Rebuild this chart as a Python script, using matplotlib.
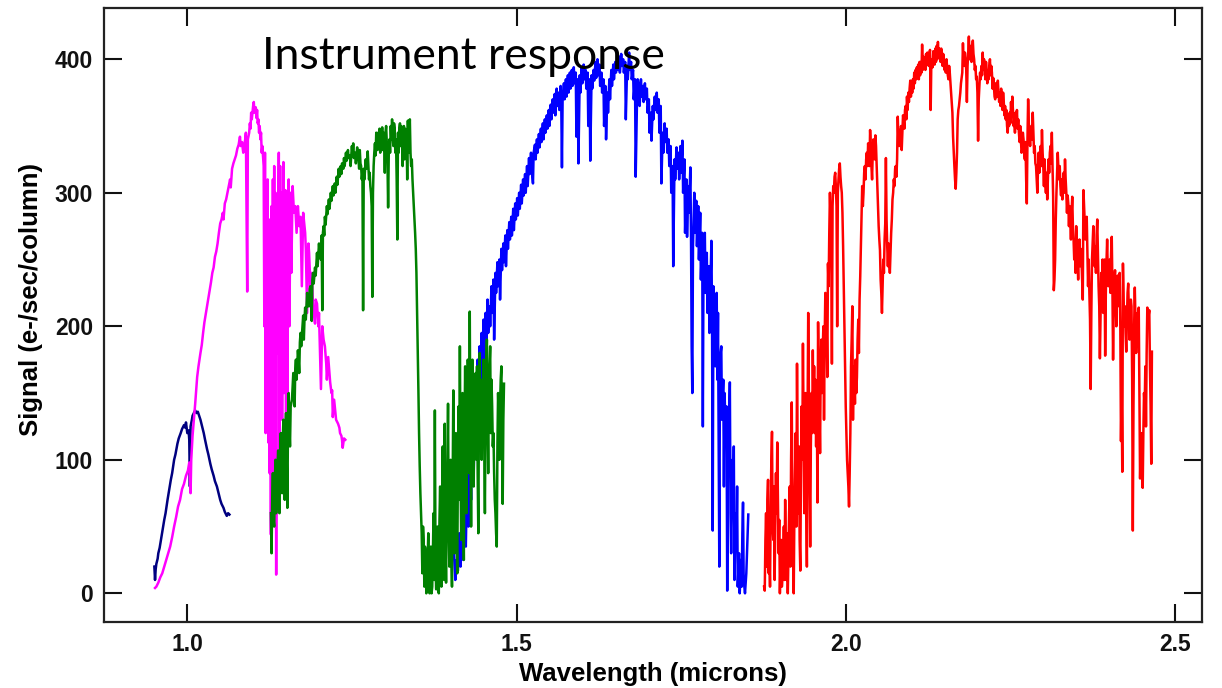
import matplotlib
matplotlib.use("Agg")
import matplotlib.pyplot as plt

# (wavelength in microns, signal in e-/sec/column), one list per band
navy_pts = [(0.950, 20), (0.951, 10), (0.952, 18), (0.953, 22), (0.955, 26), (0.956, 30), (0.958, 34),
            (0.960, 40), (0.962, 46), (0.965, 55), (0.967, 60), (0.970, 70), (0.972, 76), (0.975, 85),
            (0.977, 90), (0.980, 100), (0.982, 104), (0.985, 112), (0.987, 116), (0.990, 120),
            (0.992, 123), (0.995, 126), (0.997, 124), (0.998, 128), (1.000, 120), (1.002, 122),
            (1.003, 115), (1.004, 80), (1.005, 125), (1.007, 130), (1.008, 133), (1.010, 135),
            (1.012, 137), (1.014, 135), (1.016, 136), (1.018, 133), (1.020, 130), (1.022, 126),
            (1.025, 120), (1.027, 115), (1.030, 108), (1.032, 104), (1.035, 97), (1.037, 93),
            (1.040, 88), (1.042, 84), (1.045, 80), (1.047, 76), (1.050, 70), (1.052, 67), (1.055, 64),
            (1.057, 61), (1.060, 58), (1.062, 60), (1.064, 59)]

magenta_pts = [(0.951, 4), (0.953, 5), (0.956, 8), (0.959, 12), (0.962, 15), (0.965, 20), (0.968, 25),
               (0.971, 30), (0.974, 35), (0.977, 42), (0.980, 50), (0.983, 57), (0.986, 65), (0.989, 70),
               (0.992, 78), (0.995, 82), (0.998, 88), (1.001, 92), (1.003, 98), (1.005, 75), (1.006, 100),
               (1.008, 118), (1.010, 130), (1.012, 142), (1.015, 162), (1.017, 170), (1.020, 180),
               (1.022, 186), (1.024, 195), (1.026, 203), (1.029, 212), (1.031, 218), (1.034, 227),
               (1.036, 233), (1.038, 240), (1.040, 244), (1.042, 252), (1.044, 256), (1.046, 262),
               (1.048, 270), (1.050, 277), (1.052, 280), (1.054, 285), (1.055, 280), (1.057, 292),
               (1.059, 295), (1.061, 300), (1.063, 305), (1.065, 310), (1.066, 304), (1.068, 318),
               (1.070, 322), (1.072, 325), (1.074, 328), (1.076, 333), (1.078, 336), (1.080, 342),
               (1.081, 335), (1.083, 338), (1.085, 330), (1.086, 335), (1.088, 340), (1.089, 345),
               (1.091, 226), (1.092, 340), (1.094, 345), (1.095, 352), (1.096, 348), (1.097, 360),
               (1.098, 355), (1.100, 365), (1.101, 368), (1.102, 360), (1.104, 364), (1.105, 356),
               (1.106, 362), (1.107, 352), (1.108, 355), (1.109, 345), (1.110, 350), (1.111, 340),
               (1.112, 345), (1.113, 330), (1.114, 335),
               (1.116, 320), (1.117, 200), (1.118, 330), (1.119, 120), (1.120, 300), (1.121, 160),
               (1.122, 310), (1.123, 113), (1.124, 280), (1.125, 90), (1.126, 260), (1.127, 44),
               (1.128, 290), (1.129, 86), (1.130, 310), (1.131, 140), (1.132, 320), (1.133, 60),
               (1.134, 300), (1.135, 14), (1.136, 250), (1.137, 180), (1.139, 330), (1.140, 100),
               (1.141, 320), (1.142, 200), (1.143, 300), (1.144, 130), (1.146, 323), (1.147, 150),
               (1.149, 302), (1.150, 120), (1.151, 290), (1.152, 147), (1.154, 310), (1.155, 200),
               (1.157, 300), (1.158, 240), (1.160, 305), (1.162, 285), (1.164, 290), (1.166, 270),
               (1.168, 290), (1.170, 275), (1.172, 282), (1.174, 230), (1.176, 285), (1.179, 270),
               (1.180, 258), (1.182, 210), (1.184, 262), (1.185, 255), (1.187, 230), (1.189, 240),
               (1.191, 215), (1.194, 202), (1.195, 220), (1.197, 217), (1.199, 200), (1.200, 210),
               (1.203, 153), (1.205, 200), (1.207, 190), (1.209, 185), (1.211, 172), (1.212, 160),
               (1.214, 177), (1.216, 165), (1.217, 158), (1.219, 150), (1.220, 152), (1.221, 132),
               (1.223, 145), (1.224, 140), (1.226, 130), (1.229, 127), (1.231, 124), (1.232, 120),
               (1.234, 118), (1.235, 115), (1.236, 109), (1.238, 116), (1.240, 115)]

green_pts = [(1.127, 60), (1.128, 30), (1.129, 70), (1.130, 90), (1.131, 55), (1.132, 50), (1.133, 85),
             (1.134, 100), (1.135, 60), (1.136, 70), (1.137, 95), (1.138, 107), (1.139, 80), (1.140, 60),
             (1.141, 100), (1.142, 120), (1.143, 90), (1.144, 75), (1.145, 115), (1.146, 130),
             (1.147, 95), (1.148, 70), (1.149, 120), (1.150, 135), (1.151, 100), (1.152, 64),
             (1.153, 130), (1.154, 150), (1.155, 125), (1.156, 110), (1.157, 140), (1.159, 145),
             (1.160, 155), (1.161, 165), (1.162, 150), (1.163, 140), (1.164, 168), (1.165, 175),
             (1.166, 160), (1.168, 182), (1.169, 175), (1.170, 165), (1.171, 188), (1.172, 195),
             (1.173, 185), (1.175, 200), (1.176, 208), (1.177, 190), (1.178, 205), (1.179, 214),
             (1.180, 205), (1.182, 225), (1.183, 215), (1.185, 215), (1.186, 228), (1.187, 230),
             (1.188, 220), (1.189, 204), (1.190, 235), (1.191, 240), (1.192, 232), (1.194, 244),
             (1.195, 238), (1.197, 255), (1.198, 245), (1.200, 262), (1.201, 255), (1.203, 250),
             (1.204, 268), (1.205, 212), (1.206, 270), (1.207, 275), (1.208, 268), (1.209, 282),
             (1.210, 276), (1.212, 290), (1.213, 284), (1.215, 295), (1.216, 288), (1.218, 300),
             (1.219, 294), (1.221, 305), (1.222, 298), (1.224, 307), (1.225, 300), (1.227, 312),
             (1.228, 306), (1.230, 318), (1.231, 312), (1.233, 320), (1.234, 314), (1.235, 322),
             (1.237, 318), (1.238, 326), (1.239, 320), (1.241, 330), (1.242, 324), (1.244, 332),
             (1.245, 326), (1.247, 328), (1.248, 320), (1.250, 335), (1.251, 328), (1.252, 337),
             (1.253, 326), (1.255, 330), (1.256, 322), (1.258, 334), (1.259, 326), (1.260, 325),
             (1.261, 318), (1.262, 332), (1.263, 322), (1.264, 320), (1.265, 310), (1.266, 315),
             (1.267, 212), (1.268, 318), (1.269, 310), (1.271, 325), (1.272, 318), (1.274, 331),
             (1.275, 320), (1.276, 310), (1.277, 315), (1.278, 305), (1.279, 300), (1.280, 290),
             (1.281, 222), (1.282, 300), (1.283, 320), (1.284, 330), (1.285, 337), (1.286, 328),
             (1.287, 345), (1.288, 340), (1.289, 332), (1.290, 345), (1.291, 336), (1.292, 348),
             (1.293, 330), (1.294, 345), (1.295, 338), (1.296, 349), (1.297, 332), (1.298, 345),
             (1.299, 340), (1.300, 315), (1.301, 345), (1.302, 350), (1.303, 338), (1.304, 325),
             (1.305, 289), (1.306, 330), (1.307, 340), (1.308, 330), (1.309, 350), (1.310, 340),
             (1.311, 355), (1.312, 342), (1.313, 335), (1.314, 352), (1.315, 348), (1.316, 330),
             (1.317, 340), (1.318, 310), (1.319, 265), (1.320, 345), (1.321, 330), (1.322, 348),
             (1.323, 352), (1.324, 335), (1.325, 350), (1.326, 342), (1.327, 320), (1.328, 345),
             (1.329, 350), (1.330, 325), (1.331, 348), (1.332, 330), (1.333, 345), (1.334, 310),
             (1.335, 354), (1.336, 330), (1.337, 340), (1.338, 355), (1.339, 330), (1.340, 320),
             (1.341, 325), (1.342, 310), (1.343, 300), (1.344, 290), (1.345, 280), (1.346, 270),
             (1.347, 258), (1.348, 240), (1.349, 212), (1.350, 180), (1.351, 152), (1.352, 120),
             (1.353, 95), (1.354, 75), (1.355, 60), (1.356, 45), (1.357, 15), (1.358, 50), (1.359, 40),
             (1.360, 5), (1.361, 35), (1.362, 30), (1.363, 0), (1.364, 2), (1.365, 25), (1.366, 45),
             (1.367, 10), (1.368, 0), (1.369, 20), (1.370, 35), (1.371, 0), (1.372, 5), (1.373, 30),
             (1.374, 60), (1.375, 10), (1.376, 137), (1.377, 20), (1.378, 3), (1.379, 40), (1.380, 50),
             (1.381, 5), (1.382, 0), (1.383, 55), (1.384, 80), (1.385, 20), (1.386, 5), (1.387, 70),
             (1.388, 110), (1.389, 30), (1.390, 10), (1.391, 127), (1.392, 40), (1.393, 8), (1.394, 60),
             (1.395, 90), (1.396, 142), (1.397, 50), (1.398, 20), (1.399, 70), (1.400, 100), (1.401, 30),
             (1.402, 5), (1.403, 80), (1.404, 152), (1.405, 60), (1.406, 30), (1.407, 90), (1.408, 120),
             (1.409, 40), (1.410, 15), (1.411, 95), (1.412, 140), (1.413, 70), (1.414, 185), (1.415, 90),
             (1.416, 40), (1.417, 110), (1.418, 150), (1.419, 70), (1.420, 25), (1.421, 120),
             (1.422, 170), (1.423, 100), (1.424, 60), (1.425, 130), (1.426, 175), (1.427, 160),
             (1.428, 90), (1.429, 211), (1.430, 110), (1.431, 50), (1.432, 130), (1.433, 175),
             (1.434, 120), (1.435, 80), (1.436, 150), (1.437, 120), (1.438, 165), (1.439, 100),
             (1.440, 170), (1.441, 90), (1.442, 45), (1.443, 140), (1.444, 180), (1.445, 130),
             (1.446, 160), (1.447, 100), (1.448, 150), (1.449, 120), (1.450, 175), (1.451, 110),
             (1.452, 60), (1.453, 140), (1.454, 170), (1.455, 190), (1.456, 130), (1.457, 90),
             (1.458, 150), (1.459, 170), (1.460, 185), (1.461, 120), (1.462, 160), (1.463, 140),
             (1.464, 110), (1.465, 120), (1.466, 90), (1.467, 70), (1.468, 60), (1.469, 45), (1.470, 35),
             (1.471, 110), (1.472, 150), (1.473, 130), (1.474, 100), (1.475, 140), (1.476, 160),
             (1.477, 170), (1.478, 120), (1.479, 67), (1.480, 130), (1.481, 157)]

blue_pts = [(1.405, 30), (1.407, 10), (1.409, 25), (1.411, 17), (1.413, 45), (1.415, 20), (1.417, 60),
            (1.419, 25), (1.421, 70), (1.423, 35), (1.425, 90), (1.427, 50), (1.429, 110), (1.431, 70),
            (1.433, 130), (1.435, 90), (1.437, 150), (1.439, 110), (1.441, 175), (1.442, 130),
            (1.444, 185), (1.445, 150), (1.447, 195), (1.448, 160), (1.450, 205), (1.451, 170),
            (1.453, 210), (1.454, 185), (1.456, 220), (1.457, 195), (1.459, 215), (1.460, 200),
            (1.462, 230), (1.463, 210), (1.465, 235), (1.466, 190), (1.468, 240), (1.469, 225),
            (1.471, 248), (1.472, 230), (1.474, 250), (1.475, 220), (1.477, 258), (1.478, 242),
            (1.480, 262), (1.481, 248), (1.483, 268), (1.484, 245), (1.486, 272), (1.487, 258),
            (1.489, 278), (1.490, 265), (1.492, 282), (1.493, 268), (1.495, 288), (1.496, 272),
            (1.498, 292), (1.499, 280), (1.501, 296), (1.502, 283), (1.504, 300), (1.505, 288),
            (1.507, 306), (1.508, 292), (1.510, 310), (1.511, 298), (1.513, 314), (1.514, 300),
            (1.516, 320), (1.517, 305), (1.519, 326), (1.520, 314), (1.522, 330), (1.523, 318),
            (1.525, 307), (1.526, 330), (1.528, 336), (1.529, 325), (1.531, 340), (1.532, 330),
            (1.534, 344), (1.535, 334), (1.537, 348), (1.538, 338), (1.540, 352), (1.541, 340),
            (1.543, 355), (1.544, 345), (1.546, 358), (1.547, 348), (1.549, 362), (1.550, 350),
            (1.552, 366), (1.553, 355), (1.555, 370), (1.556, 360), (1.558, 374), (1.559, 358),
            (1.561, 378), (1.562, 365), (1.564, 375), (1.565, 362), (1.567, 380), (1.568, 365),
            (1.569, 319), (1.570, 370), (1.572, 382), (1.573, 370), (1.575, 385), (1.576, 372),
            (1.578, 388), (1.579, 375), (1.581, 390), (1.582, 378), (1.584, 392), (1.585, 380),
            (1.587, 394), (1.588, 382), (1.590, 390), (1.591, 342), (1.593, 385), (1.594, 322),
            (1.596, 388), (1.597, 375), (1.599, 394), (1.600, 382), (1.602, 396), (1.603, 385),
            (1.605, 392), (1.606, 378), (1.608, 390), (1.609, 350), (1.611, 385), (1.612, 324),
            (1.614, 388), (1.615, 378), (1.617, 392), (1.618, 384), (1.620, 398), (1.621, 386),
            (1.623, 400), (1.624, 388), (1.626, 396), (1.627, 380), (1.629, 390), (1.630, 375),
            (1.632, 385), (1.633, 350), (1.635, 380), (1.636, 340), (1.638, 375), (1.639, 360),
            (1.641, 385), (1.642, 370), (1.644, 392), (1.645, 380), (1.647, 396), (1.648, 385),
            (1.650, 398), (1.651, 390), (1.653, 400), (1.654, 392), (1.656, 402), (1.657, 390),
            (1.659, 404), (1.660, 395), (1.662, 400), (1.663, 390), (1.665, 398), (1.666, 355),
            (1.668, 395), (1.669, 385), (1.671, 405), (1.672, 392), (1.674, 398), (1.675, 385),
            (1.677, 392), (1.678, 370), (1.680, 385), (1.681, 312), (1.683, 370), (1.684, 385),
            (1.686, 378), (1.687, 365), (1.689, 385), (1.690, 372), (1.692, 380), (1.693, 368),
            (1.695, 382), (1.696, 370), (1.698, 378), (1.699, 360), (1.701, 370), (1.702, 345),
            (1.704, 360), (1.705, 339), (1.707, 365), (1.708, 355), (1.710, 372), (1.711, 362),
            (1.713, 375), (1.714, 360), (1.716, 370), (1.717, 345), (1.719, 365), (1.720, 307),
            (1.722, 345), (1.723, 330), (1.725, 352), (1.726, 338), (1.728, 348), (1.729, 330),
            (1.731, 340), (1.732, 320), (1.734, 335), (1.735, 300), (1.737, 320), (1.738, 245),
            (1.740, 325), (1.741, 310), (1.743, 334), (1.744, 318), (1.746, 330), (1.747, 310),
            (1.749, 335), (1.750, 315), (1.752, 339), (1.753, 300), (1.755, 325), (1.756, 270),
            (1.758, 310), (1.759, 267), (1.761, 305), (1.762, 285), (1.764, 319), (1.765, 270),
            (1.766, 185), (1.767, 150), (1.768, 260), (1.770, 300), (1.771, 270), (1.773, 294),
            (1.774, 260), (1.776, 290), (1.777, 250), (1.779, 285), (1.780, 235), (1.782, 270),
            (1.783, 125), (1.784, 255), (1.786, 270), (1.787, 225), (1.789, 255), (1.790, 210),
            (1.792, 245), (1.793, 195), (1.795, 240), (1.796, 264), (1.797, 200), (1.798, 47),
            (1.799, 230), (1.801, 215), (1.802, 170), (1.804, 225), (1.805, 160), (1.806, 210),
            (1.807, 120), (1.808, 20), (1.809, 175), (1.811, 185), (1.812, 130), (1.814, 160),
            (1.815, 80), (1.816, 150), (1.818, 110), (1.819, 140), (1.820, 2), (1.821, 95),
            (1.823, 130), (1.824, 158), (1.825, 60), (1.826, 30), (1.828, 100), (1.829, 70),
            (1.830, 110), (1.831, 10), (1.833, 60), (1.834, 40), (1.835, 80), (1.836, 5), (1.838, 30),
            (1.839, 0), (1.841, 25), (1.842, 5), (1.843, 45), (1.844, 68), (1.845, 10), (1.847, 0),
            (1.849, 15), (1.850, 30), (1.852, 59)]

red_pts = [(1.876, 5), (1.877, 2), (1.878, 40), (1.879, 60), (1.880, 20), (1.881, 70), (1.882, 85),
           (1.883, 15), (1.884, 30), (1.885, 5), (1.886, 60), (1.887, 100), (1.888, 121), (1.889, 50),
           (1.890, 40), (1.891, 80), (1.892, 10), (1.893, 50), (1.894, 90), (1.895, 60), (1.896, 113),
           (1.897, 70), (1.898, 30), (1.899, 55), (1.900, 0), (1.901, 25), (1.902, 40), (1.903, 5),
           (1.905, 20), (1.906, 50), (1.907, 10), (1.908, 70), (1.909, 30), (1.910, 10), (1.911, 45),
           (1.912, 0), (1.913, 30), (1.914, 60), (1.915, 80), (1.916, 20), (1.917, 100), (1.918, 143),
           (1.919, 70), (1.920, 40), (1.921, 0), (1.922, 60), (1.923, 90), (1.924, 120), (1.925, 50),
           (1.926, 172), (1.927, 100), (1.928, 60), (1.929, 110), (1.930, 40), (1.931, 17),
           (1.932, 90), (1.933, 140), (1.934, 100), (1.935, 187), (1.936, 120), (1.937, 60),
           (1.938, 90), (1.939, 150), (1.940, 70), (1.941, 20), (1.942, 130), (1.943, 210),
           (1.944, 150), (1.945, 100), (1.946, 35), (1.947, 110), (1.948, 150), (1.949, 120),
           (1.950, 182), (1.951, 140), (1.952, 170), (1.953, 120), (1.954, 160), (1.955, 110),
           (1.956, 150), (1.957, 68), (1.958, 203), (1.959, 160), (1.960, 140), (1.961, 105),
           (1.962, 170), (1.963, 190), (1.964, 150), (1.965, 180), (1.966, 200), (1.967, 130),
           (1.968, 190), (1.969, 225), (1.970, 180), (1.971, 200), (1.972, 162), (1.973, 247),
           (1.974, 230), (1.975, 270), (1.976, 300), (1.977, 280), (1.978, 260), (1.979, 172),
           (1.980, 290), (1.981, 305), (1.982, 300), (1.983, 312), (1.984, 315), (1.985, 305),
           (1.986, 290), (1.987, 200), (1.988, 300), (1.989, 310), (1.990, 318), (1.991, 322),
           (1.992, 312), (1.993, 305), (1.994, 300), (1.995, 285), (1.996, 260), (1.997, 230),
           (1.998, 200), (1.999, 175), (2.000, 140), (2.002, 100), (2.003, 90), (2.004, 80),
           (2.005, 65), (2.006, 90), (2.007, 120), (2.008, 170), (2.009, 190), (2.010, 215),
           (2.011, 130), (2.012, 170), (2.013, 160), (2.014, 142), (2.015, 175), (2.016, 150),
           (2.017, 162), (2.018, 190), (2.019, 205), (2.020, 180), (2.021, 220), (2.022, 237),
           (2.023, 260), (2.024, 280), (2.025, 305), (2.026, 290), (2.027, 300), (2.028, 315),
           (2.029, 320), (2.030, 310), (2.031, 325), (2.032, 330), (2.033, 320), (2.034, 337),
           (2.035, 330), (2.036, 320), (2.037, 347), (2.038, 335), (2.039, 320), (2.040, 310),
           (2.041, 330), (2.042, 340), (2.043, 335), (2.044, 325), (2.045, 343), (2.046, 335),
           (2.047, 320), (2.048, 305), (2.049, 292), (2.050, 275), (2.051, 265), (2.052, 257),
           (2.053, 235), (2.054, 225), (2.055, 210), (2.056, 230), (2.057, 250), (2.058, 240),
           (2.059, 265), (2.060, 277), (2.061, 326), (2.062, 280), (2.063, 260), (2.064, 245),
           (2.065, 262), (2.066, 250), (2.067, 240), (2.068, 255), (2.069, 270), (2.070, 280),
           (2.071, 295), (2.072, 300), (2.073, 310), (2.074, 305), (2.075, 318), (2.076, 320),
           (2.077, 312), (2.078, 325), (2.079, 357), (2.080, 340), (2.081, 335), (2.082, 347),
           (2.083, 338), (2.084, 350), (2.085, 332), (2.086, 345), (2.087, 358), (2.088, 355),
           (2.089, 348), (2.090, 362), (2.091, 365), (2.092, 355), (2.093, 372), (2.094, 362),
           (2.095, 375), (2.096, 368), (2.097, 378), (2.098, 384), (2.099, 372), (2.100, 380),
           (2.101, 375), (2.102, 385), (2.103, 378), (2.104, 390), (2.105, 382), (2.106, 392),
           (2.107, 385), (2.108, 394), (2.109, 386), (2.110, 396), (2.111, 385), (2.112, 398),
           (2.113, 388), (2.114, 398), (2.115, 390), (2.116, 411), (2.117, 392), (2.118, 402),
           (2.119, 394), (2.120, 400), (2.121, 392), (2.122, 404), (2.123, 396), (2.124, 405),
           (2.125, 398), (2.126, 395), (2.127, 404), (2.128, 407), (2.129, 362), (2.130, 398),
           (2.131, 400), (2.132, 394), (2.133, 406), (2.134, 405), (2.135, 396), (2.136, 408),
           (2.137, 398), (2.138, 410), (2.139, 400), (2.140, 413), (2.141, 402), (2.142, 408),
           (2.143, 405), (2.144, 398), (2.145, 408), (2.146, 403), (2.147, 395), (2.148, 404),
           (2.149, 400), (2.150, 392), (2.151, 398), (2.152, 390), (2.153, 400), (2.154, 394),
           (2.155, 388), (2.156, 385), (2.157, 395), (2.158, 390), (2.159, 382), (2.160, 375),
           (2.161, 368), (2.162, 360), (2.163, 342), (2.164, 330), (2.165, 320), (2.166, 310),
           (2.167, 303), (2.168, 315), (2.169, 330), (2.170, 355), (2.171, 362), (2.172, 365),
           (2.173, 370), (2.174, 375), (2.175, 382), (2.176, 386), (2.177, 390), (2.178, 412),
           (2.179, 398), (2.180, 395), (2.181, 405), (2.182, 400), (2.183, 392), (2.184, 368),
           (2.185, 395), (2.186, 405), (2.187, 417), (2.188, 400), (2.189, 410), (2.190, 405),
           (2.191, 398), (2.192, 408), (2.193, 414), (2.194, 404), (2.195, 400), (2.196, 392),
           (2.197, 395), (2.198, 385), (2.199, 387), (2.200, 375), (2.201, 339), (2.202, 370),
           (2.203, 380), (2.204, 390), (2.205, 385), (2.206, 395), (2.207, 388), (2.208, 405),
           (2.209, 392), (2.210, 400), (2.211, 395), (2.212, 385), (2.213, 398), (2.214, 392),
           (2.215, 382), (2.216, 390), (2.217, 385), (2.218, 395), (2.219, 400), (2.220, 388),
           (2.221, 395), (2.222, 390), (2.223, 378), (2.224, 386), (2.225, 380), (2.226, 372),
           (2.227, 370), (2.228, 382), (2.229, 378), (2.230, 372), (2.231, 384), (2.232, 375),
           (2.233, 368), (2.234, 375), (2.235, 365), (2.236, 378), (2.237, 372), (2.238, 362),
           (2.239, 375), (2.240, 368), (2.241, 358), (2.242, 365), (2.243, 355), (2.244, 362),
           (2.245, 350), (2.246, 345), (2.247, 358), (2.248, 350), (2.249, 360), (2.250, 352),
           (2.251, 368), (2.252, 358), (2.253, 372), (2.254, 360), (2.255, 350), (2.256, 355),
           (2.257, 345), (2.258, 360), (2.259, 350), (2.260, 362), (2.261, 348), (2.262, 355),
           (2.263, 345), (2.264, 338), (2.265, 350), (2.266, 340), (2.267, 330), (2.268, 332),
           (2.269, 345), (2.270, 340), (2.271, 330), (2.272, 325), (2.273, 338), (2.274, 310),
           (2.275, 292), (2.276, 340), (2.277, 370), (2.278, 352), (2.279, 345), (2.280, 335),
           (2.281, 348), (2.282, 350), (2.283, 340), (2.284, 360), (2.285, 345), (2.286, 330),
           (2.287, 335), (2.288, 322), (2.289, 320), (2.290, 310), (2.291, 300), (2.292, 318),
           (2.293, 330), (2.294, 315), (2.295, 325), (2.296, 335), (2.297, 320), (2.298, 347),
           (2.299, 330), (2.300, 320), (2.301, 305), (2.302, 325), (2.303, 310), (2.304, 300),
           (2.305, 315), (2.306, 295), (2.307, 310), (2.308, 325), (2.309, 315), (2.310, 330),
           (2.311, 335), (2.312, 322), (2.313, 345), (2.314, 320), (2.315, 297), (2.316, 227),
           (2.317, 235), (2.318, 250), (2.319, 280), (2.320, 300), (2.321, 315), (2.322, 330),
           (2.323, 318), (2.324, 310), (2.325, 320), (2.326, 305), (2.327, 298), (2.328, 310),
           (2.329, 295), (2.330, 305), (2.331, 315), (2.332, 300), (2.333, 325), (2.334, 310),
           (2.335, 300), (2.336, 285), (2.337, 298), (2.338, 292), (2.339, 275), (2.340, 290),
           (2.341, 280), (2.342, 265), (2.343, 285), (2.344, 297), (2.345, 275), (2.346, 265),
           (2.347, 250), (2.348, 260), (2.349, 240), (2.350, 275), (2.351, 262), (2.352, 248),
           (2.353, 235), (2.354, 255), (2.355, 265), (2.356, 245), (2.357, 258), (2.358, 250),
           (2.359, 235), (2.360, 220), (2.361, 302), (2.362, 290), (2.363, 280), (2.364, 265),
           (2.365, 275), (2.366, 282), (2.367, 255), (2.368, 230), (2.369, 250), (2.370, 225),
           (2.371, 205), (2.372, 153), (2.373, 210), (2.374, 250), (2.375, 262), (2.376, 275),
           (2.377, 255), (2.378, 245), (2.379, 260), (2.380, 240), (2.381, 268), (2.382, 280),
           (2.383, 255), (2.384, 230), (2.385, 215), (2.386, 176), (2.387, 210), (2.388, 240),
           (2.389, 228), (2.390, 250), (2.391, 210), (2.392, 235), (2.393, 250), (2.394, 178),
           (2.395, 225), (2.396, 248), (2.397, 265), (2.398, 240), (2.399, 230), (2.400, 242),
           (2.401, 250), (2.402, 225), (2.403, 255), (2.404, 267), (2.405, 230), (2.406, 175),
           (2.407, 215), (2.408, 235), (2.409, 242), (2.410, 220), (2.411, 200), (2.412, 225),
           (2.413, 238), (2.414, 230), (2.415, 215), (2.416, 240), (2.417, 200), (2.418, 114),
           (2.419, 150), (2.420, 91), (2.421, 247), (2.422, 220), (2.423, 200), (2.424, 215),
           (2.425, 195), (2.426, 181), (2.427, 205), (2.428, 225), (2.429, 232), (2.430, 210),
           (2.431, 190), (2.432, 205), (2.433, 220), (2.434, 215), (2.435, 160), (2.436, 47),
           (2.437, 140), (2.438, 200), (2.439, 229), (2.440, 205), (2.441, 180), (2.442, 195),
           (2.443, 210), (2.444, 202), (2.445, 214), (2.446, 150), (2.447, 86), (2.448, 110),
           (2.449, 120), (2.450, 100), (2.451, 79), (2.452, 120), (2.453, 150), (2.454, 140),
           (2.455, 170), (2.456, 125), (2.457, 180), (2.458, 214), (2.459, 200), (2.460, 208),
           (2.461, 212), (2.462, 170), (2.463, 140), (2.464, 97), (2.465, 181)]

x_ticks = [1.0, 1.5, 2.0, 2.5]
y_ticks = [0, 100, 200, 300, 400]

fig = plt.figure(figsize=(12.22, 6.88), dpi=100)
ax = fig.add_axes([0.0851, 0.0959, 0.8985, 0.8925])

# drawing order: later bands sit on top where they overlap
bands = [(navy_pts, "#000080"), (magenta_pts, "#ff00ff"), (blue_pts, "#0000ff"),
         (green_pts, "#008000"), (red_pts, "#ff0000")]
for pts, col in bands:
    xs, ys = zip(*pts)
    ax.plot(xs, ys, color=col, lw=1.8)

ax.set_xlim(0.8735, 2.541)
ax.set_ylim(-21.5, 438.4)
ax.set_xticks(x_ticks)
ax.set_xticklabels(["%.1f" % v for v in x_ticks])
ax.set_yticks(y_ticks)
ax.tick_params(direction="in", length=13, width=1.5, top=True, right=True, pad=8,
               labelsize=16.5, colors="#111111")
for lab in ax.get_xticklabels() + ax.get_yticklabels():
    lab.set_fontfamily("Liberation Sans")
    lab.set_fontweight("bold")
for sp in ax.spines.values():
    sp.set_linewidth(1.6)
    sp.set_color("#222222")

ax.set_xlabel("Wavelength (microns)", fontsize=18.5, fontweight="bold", family="Liberation Sans",
              labelpad=4)
ax.set_ylabel("Signal (e-/sec/column)", fontsize=18.5, fontweight="bold", family="Liberation Sans")
ax.yaxis.set_label_coords(-0.056, 0.525)

ax.text(1.1135, 392.7, "Instrument response", fontsize=32, family="Lato", va="baseline",
        ha="left", color="black")

fig.savefig("out.png", dpi=100)
